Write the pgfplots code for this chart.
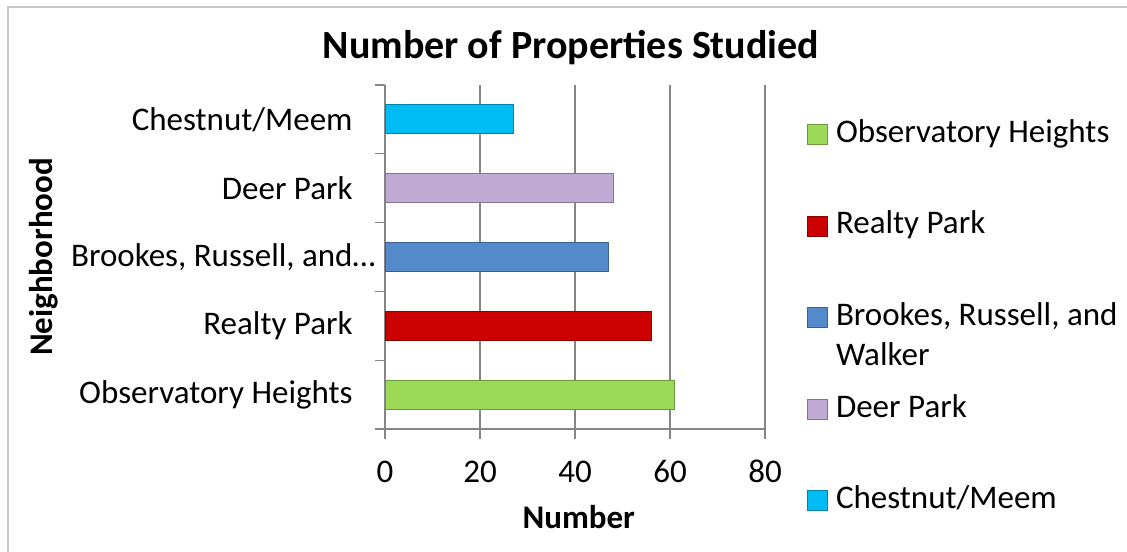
\documentclass[border=0pt]{standalone}
\usepackage{fontspec}
\setmainfont{Carlito}
\usepackage{pgfplots}
\pgfplotsset{compat=1.18}

\definecolor{gridgray}{RGB}{134,134,134}
\definecolor{framegray}{RGB}{200,200,200}
\definecolor{obsgreen}{RGB}{155,217,87}
\definecolor{realtyred}{RGB}{204,0,0}
\definecolor{brookesblue}{RGB}{85,138,202}
\definecolor{deerlilac}{RGB}{190,170,210}
\definecolor{chestcyan}{RGB}{0,188,245}

\newcommand{\lblfont}{\fontsize{16.5bp}{20bp}\selectfont}

\begin{document}
\begin{tikzpicture}
\useasboundingbox (0,0) rectangle (563.5bp,276bp);
% chart frame
\draw[framegray, line width=1bp] (4bp,0) -- (4bp,272.5bp) -- (563.5bp,272.5bp);
% title
\node[anchor=base, font=\fontsize{20bp}{24bp}\bfseries\selectfont] at (285.5bp,246.5bp) {Number of Properties Studied};
\begin{axis}[
  at={(192.5bp,61.5bp)}, anchor=south west,
  scale only axis, width=190bp, height=172bp,
  xmin=0, xmax=80, ymin=-0.5, ymax=4.5,
  xtick={0,20,...,80},
  ytick={-0.5,0.5,...,4.5}, yticklabels={},
  extra y ticks={0,1,2,3,4},
  extra y tick labels={Observatory Heights, Realty Park, {Brookes, Russell, and\rlap{…}}, Deer Park, Chestnut/Meem},
  extra y tick style={major tick length=0pt},
  axis x line*=bottom, axis y line*=left,
  axis line style={gridgray, line width=0.6bp},
  tick style={gridgray, line width=0.6bp},
  tick align=outside, major tick length=5bp,
  xmajorgrids, grid style={gridgray, line width=0.6bp},
  /pgf/number format/assume math mode=true,
  ticklabel style={font=\lblfont},
  xticklabel style={anchor=base, yshift=-21.5bp},
  yticklabel style={anchor=east, inner sep=0pt, xshift=-16bp},
  xlabel={Number},
  xlabel style={at={(axis description cs:0.51,-0.288)}, anchor=base, font=\lblfont\bfseries},
  ylabel={Neighborhood},
  ylabel style={at={(axis description cs:-0.897,0.5)}, anchor=center, font=\lblfont\bfseries},
  legend style={draw=none, fill=none, at={(axis description cs:1.11,0.913)}, anchor=north west,
    font=\lblfont, row sep=26.8bp, column sep=2.5bp, inner sep=0pt,
    nodes={inner sep=1.5bp, text height=12bp, text depth=4bp}},
  legend cell align=left,
  legend image code/.code={\draw[#1, line width=0.4bp] (0bp,-5bp) rectangle (10bp,5bp);},
  bar width=0.42,
]
\addplot[xbar, bar shift=0pt, fill=obsgreen, draw=obsgreen!70!black, line width=0.5bp] coordinates {(61,0)};
\addlegendentry{Observatory Heights}
\addplot[xbar, bar shift=0pt, fill=realtyred, draw=realtyred!70!black, line width=0.5bp] coordinates {(56,1)};
\addlegendentry{Realty Park}
\addplot[xbar, bar shift=0pt, fill=brookesblue, draw=brookesblue!70!black, line width=0.5bp] coordinates {(47,2)};
\addlegendentry{\parbox[t]{150bp}{Brookes, Russell, and\\Walker}}
\addplot[xbar, bar shift=0pt, fill=deerlilac, draw=deerlilac!70!black, line width=0.5bp] coordinates {(48,3)};
\addlegendentry{Deer Park}
\addplot[xbar, bar shift=0pt, fill=chestcyan, draw=chestcyan!70!black, line width=0.5bp] coordinates {(27,4)};
\addlegendentry{Chestnut/Meem}
\end{axis}
\end{tikzpicture}
\end{document}
